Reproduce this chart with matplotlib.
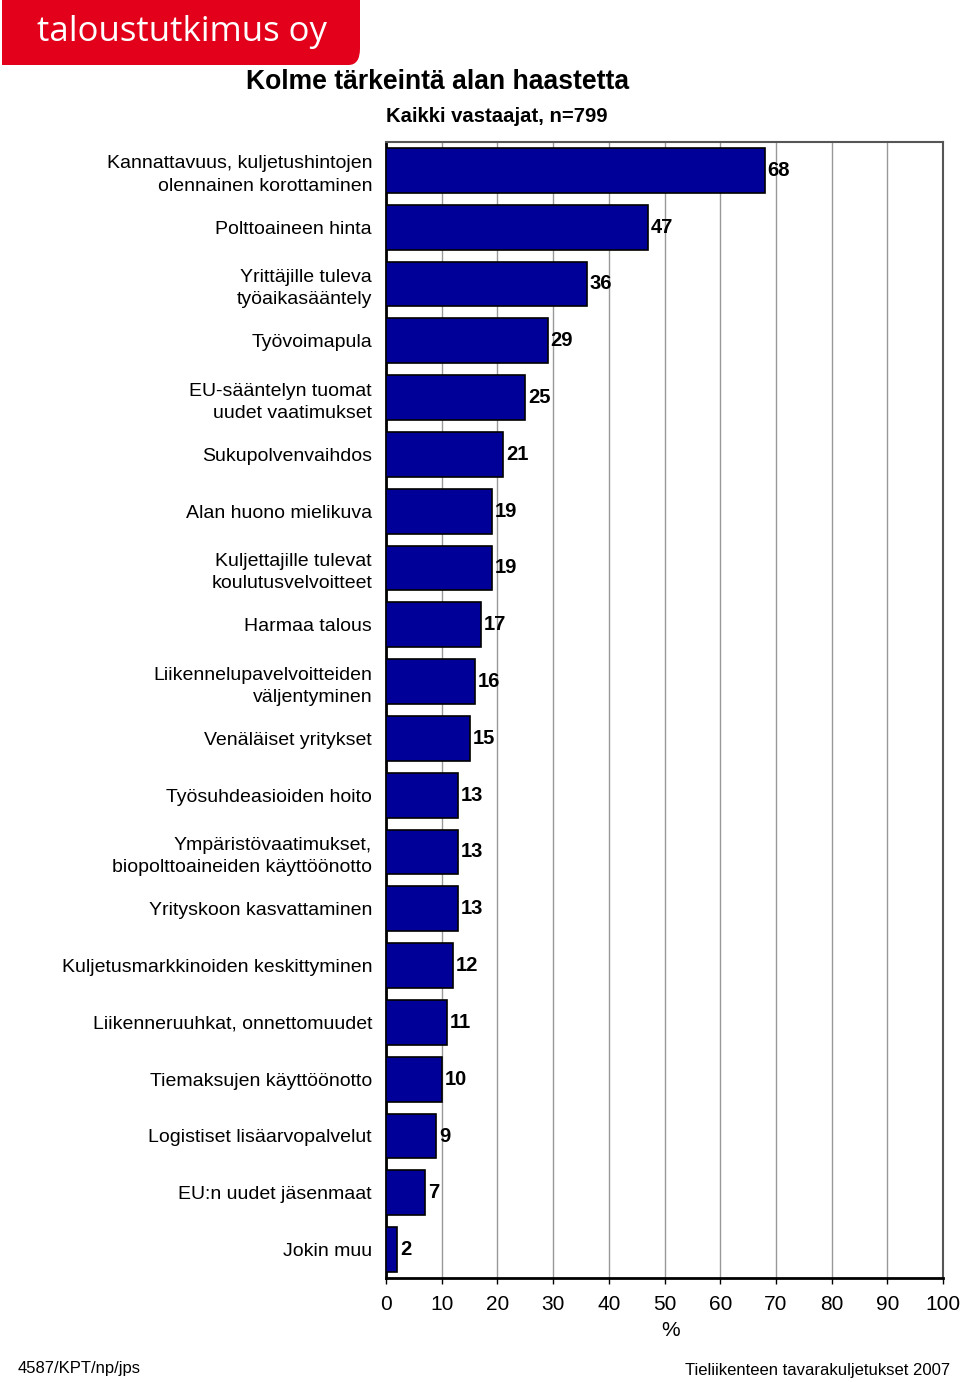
import matplotlib
matplotlib.use("Agg")
import matplotlib.pyplot as plt
from matplotlib.patches import FancyBboxPatch, Rectangle

categories = [
    "Kannattavuus, kuljetushintojen\nolennainen korottaminen",
    "Polttoaineen hinta",
    "Yrittäjille tuleva\ntyöaikasääntely",
    "Työvoimapula",
    "EU-sääntelyn tuomat\nuudet vaatimukset",
    "Sukupolvenvaihdos",
    "Alan huono mielikuva",
    "Kuljettajille tulevat\nkoulutusvelvoitteet",
    "Harmaa talous",
    "Liikennelupavelvoitteiden\nväljentyminen",
    "Venäläiset yritykset",
    "Työsuhdeasioiden hoito",
    "Ympäristövaatimukset,\nbiopolttoaineiden käyttöönotto",
    "Yrityskoon kasvattaminen",
    "Kuljetusmarkkinoiden keskittyminen",
    "Liikenneruuhkat, onnettomuudet",
    "Tiemaksujen käyttöönotto",
    "Logistiset lisäarvopalvelut",
    "EU:n uudet jäsenmaat",
    "Jokin muu",
]
values = [68, 47, 36, 29, 25, 21, 19, 19, 17, 16, 15, 13, 13, 13, 12, 11, 10, 9, 7, 2]
xticks = [0, 10, 20, 30, 40, 50, 60, 70, 80, 90, 100]

plt.rcParams['font.family'] = ['Liberation Sans', 'DejaVu Sans']

fig = plt.figure(figsize=(9.6, 13.82), dpi=100)
ax = fig.add_axes([386/960, 1 - 1278/1382, (943-386)/960, (1278-142)/1382])

n = len(values)
ypos = list(range(n))
ax.barh(ypos, values, height=0.79, color='#000099', edgecolor='black', linewidth=1.2, zorder=3)
ax.set_ylim(n - 0.5, -0.5)
ax.set_xlim(0, 100)
ax.set_xticks(xticks)
ax.set_xticklabels([str(t) for t in xticks], fontsize=15)
ax.tick_params(axis='x', length=4, width=1, pad=8)
ax.set_yticks(ypos)
ax.set_yticklabels(categories, fontsize=14, linespacing=1.4)
ax.tick_params(axis='y', length=0, pad=10)
for lbl in ax.get_yticklabels():
    lbl.set_horizontalalignment('right')
ax.grid(axis='x', color='#999999', linewidth=1, zorder=0)
ax.set_xlabel('%', fontsize=15, labelpad=8)
ax.xaxis.set_label_coords(0.511, -0.038)
for s in ['left', 'bottom']:
    ax.spines[s].set_color('black')
    ax.spines[s].set_linewidth(2)
for s in ['top', 'right']:
    ax.spines[s].set_color('#555555')
    ax.spines[s].set_linewidth(1.5)

for y, v in zip(ypos, values):
    ax.text(v + 0.5, y, str(v), va='center', ha='left', fontsize=14.5, fontweight='bold',
            zorder=4)

# Logo (only bottom-right corner rounded)
red = '#e2001a'
x0, y0, x1, y1 = 2/960, 1 - 65/1382, 360/960, 1.0
logo = FancyBboxPatch((x0, y0), x1 - x0, y1 - y0,
                      boxstyle="round,pad=0,rounding_size=0.012",
                      transform=fig.transFigure, facecolor=red, edgecolor='none')
fig.patches.append(logo)
fig.patches.append(Rectangle((x0, y0), (340/960) - x0, y1 - y0, transform=fig.transFigure,
                             facecolor=red, edgecolor='none'))
fig.patches.append(Rectangle((x0, 1 - 40/1382), x1 - x0, 40/1382, transform=fig.transFigure,
                             facecolor=red, edgecolor='none'))
fig.text(182/960, 1 - 32/1382, 'taloustutkimus oy', color='white', fontsize=25,
         fontweight='medium', family=['Open Sans', 'DejaVu Sans'], ha='center', va='center')

fig.text(438/960, 1 - 82/1382, 'Kolme tärkeintä alan haastetta', fontsize=19.1,
         fontweight='bold', ha='center', va='center')
fig.text(386/960, 1 - 117/1382, 'Kaikki vastaajat, n=799', fontsize=14.6,
         fontweight='bold', ha='left', va='center')
fig.text(18/960, 1 - 1369/1382, '4587/KPT/np/jps', fontsize=12, ha='left', va='center')
fig.text(950/960, 1 - 1371/1382, 'Tieliikenteen tavarakuljetukset 2007', fontsize=12,
         ha='right', va='center')

fig.savefig('out.png', dpi=100)
